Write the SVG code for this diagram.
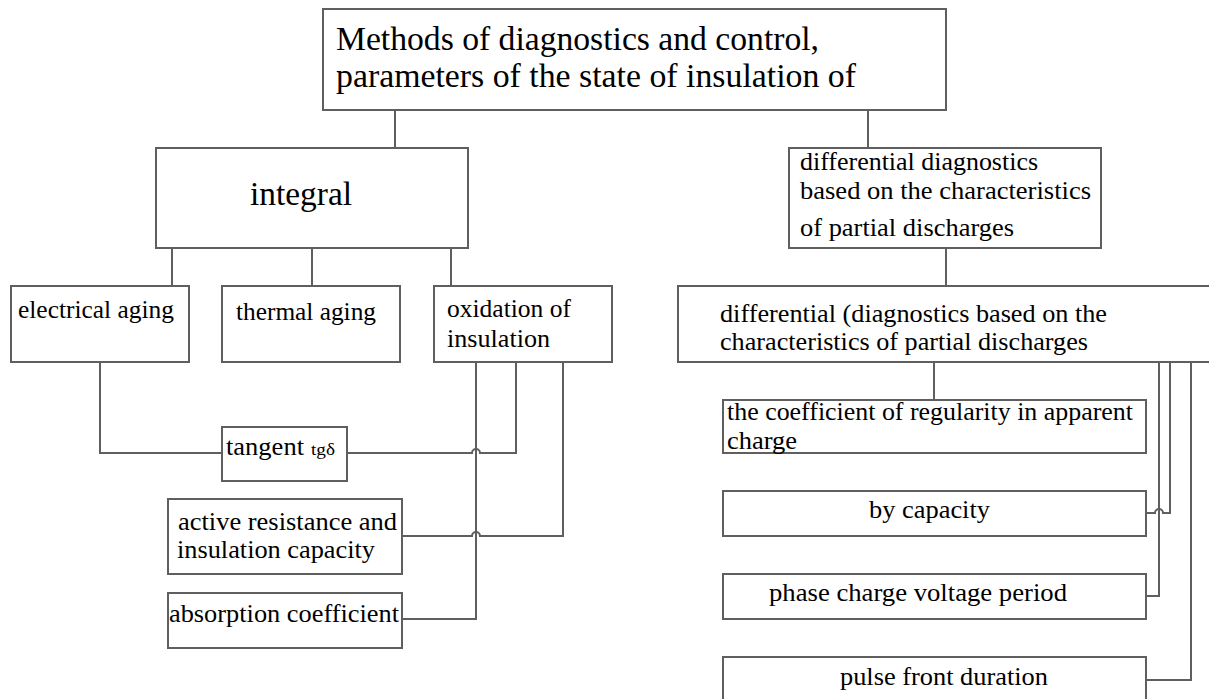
<svg xmlns="http://www.w3.org/2000/svg" width="1209" height="699" viewBox="0 0 1209 699">
<style>
.box{fill:#fff;stroke:#5f5f5f;stroke-width:2}
.ln{fill:none;stroke:#5f5f5f;stroke-width:2}
text{font-family:"Liberation Serif","Times New Roman",serif;fill:#000}
.big{font-size:33px}
.sm{font-size:25px}
</style>
<rect width="1209" height="699" fill="#fff"/>
<g id="connectors">
<path class="ln" d="M395,110 V148"/>
<path class="ln" d="M868,110 V148"/>
<path class="ln" d="M172,248 V286"/>
<path class="ln" d="M312,248 V286"/>
<path class="ln" d="M451,248 V286"/>
<path class="ln" d="M946,248 V286"/>
<path class="ln" d="M100,362 V453 H222"/>
<path class="ln" d="M347,453 H472 a4,4 0 0 1 8,0 H516 V362"/>
<path class="ln" d="M476,362 V619 H402"/>
<path class="ln" d="M563,362 V536 H480 a4,4 0 0 0 -8,0 H402"/>
<path class="ln" d="M934,363 V400"/>
<path class="ln" d="M1159,363 V596 H1146"/>
<path class="ln" d="M1170,363 V513 H1163 a4,4 0 0 0 -8,0 H1146"/>
<path class="ln" d="M1191,363 V680 H1146"/>
</g>
<g id="top">
<rect class="box" x="323" y="9" width="623" height="101"/>
<text class="big" x="336" y="50" textLength="483" lengthAdjust="spacingAndGlyphs">Methods of diagnostics and control,</text>
<text class="big" x="336" y="87" textLength="520" lengthAdjust="spacingAndGlyphs">parameters of the state of insulation of</text>
</g>
<g id="integral">
<rect class="box" x="156" y="148" width="312" height="100"/>
<text class="big" x="250" y="205" textLength="102" lengthAdjust="spacingAndGlyphs">integral</text>
</g>
<g id="diff">
<rect class="box" x="789" y="148" width="312" height="100"/>
<text class="sm" x="800" y="170" textLength="238" lengthAdjust="spacingAndGlyphs">differential diagnostics</text>
<text class="sm" x="800" y="199" textLength="291" lengthAdjust="spacingAndGlyphs">based on the characteristics</text>
<text class="sm" x="800" y="236" textLength="214" lengthAdjust="spacingAndGlyphs">of partial discharges</text>
</g>
<g id="electrical">
<rect class="box" x="11" y="286" width="178" height="76"/>
<text class="sm" x="18" y="318" textLength="156" lengthAdjust="spacingAndGlyphs">electrical aging</text>
</g>
<g id="thermal">
<rect class="box" x="222" y="286" width="178" height="76"/>
<text class="sm" x="236" y="320" textLength="140" lengthAdjust="spacingAndGlyphs">thermal aging</text>
</g>
<g id="oxidation">
<rect class="box" x="434" y="286" width="178" height="76"/>
<text class="sm" x="447" y="317" textLength="124" lengthAdjust="spacingAndGlyphs">oxidation of</text>
<text class="sm" x="447" y="347" textLength="103" lengthAdjust="spacingAndGlyphs">insulation</text>
</g>
<g id="diff2">
<rect class="box" x="678" y="286" width="540" height="76"/>
<text class="sm" x="720" y="322" textLength="387" lengthAdjust="spacingAndGlyphs">differential (diagnostics based on the</text>
<text class="sm" x="720" y="350" textLength="368" lengthAdjust="spacingAndGlyphs">characteristics of partial discharges</text>
</g>
<g id="tangent">
<rect class="box" x="222" y="427" width="125" height="54"/>
<text class="sm" x="226" y="455" textLength="78" lengthAdjust="spacingAndGlyphs">tangent</text>
<text x="311" y="455" font-size="17" textLength="24" lengthAdjust="spacingAndGlyphs">tgδ</text>
</g>
<g id="active">
<rect class="box" x="168" y="499" width="234" height="75"/>
<text class="sm" x="178" y="530" textLength="219" lengthAdjust="spacingAndGlyphs">active resistance and</text>
<text class="sm" x="177" y="558" textLength="198" lengthAdjust="spacingAndGlyphs">insulation capacity</text>
</g>
<g id="absorption">
<rect class="box" x="168" y="593" width="234" height="55"/>
<text class="sm" x="169" y="622" textLength="230" lengthAdjust="spacingAndGlyphs">absorption coefficient</text>
</g>
<g id="coef">
<rect class="box" x="723" y="400" width="423" height="53"/>
<text class="sm" x="727" y="420" textLength="406" lengthAdjust="spacingAndGlyphs">the coefficient of regularity in apparent</text>
<text class="sm" x="727" y="449" textLength="70" lengthAdjust="spacingAndGlyphs">charge</text>
</g>
<g id="capacity">
<rect class="box" x="723" y="491" width="423" height="45"/>
<text class="sm" x="869" y="518" textLength="121" lengthAdjust="spacingAndGlyphs">by capacity</text>
</g>
<g id="phase">
<rect class="box" x="723" y="574" width="423" height="45"/>
<text class="sm" x="769" y="601" textLength="298" lengthAdjust="spacingAndGlyphs">phase charge voltage period</text>
</g>
<g id="pulse">
<rect class="box" x="723" y="657" width="423" height="60"/>
<text class="sm" x="840" y="685" textLength="208" lengthAdjust="spacingAndGlyphs">pulse front duration</text>
</g>
</svg>
